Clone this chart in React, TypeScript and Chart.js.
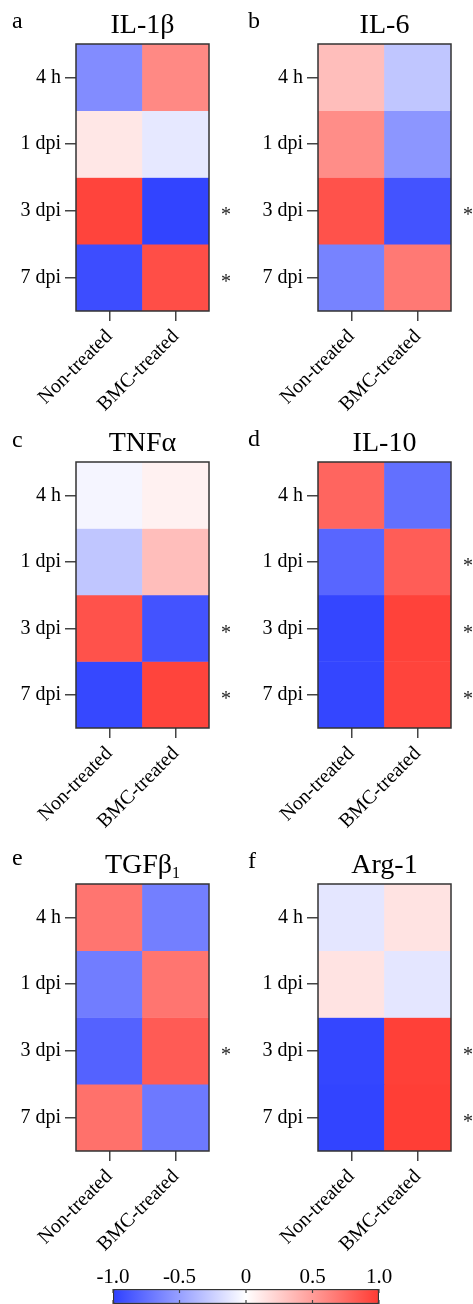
import React, { useEffect, useRef } from 'react';
import { Chart, registerables } from 'chart.js';

Chart.register(...registerables);

// ---------- data ----------
const TIME_POINTS = ['4 h', '1 dpi', '3 dpi', '7 dpi'];
const GROUPS = ['Non-treated', 'BMC-treated'];

const IL1B_NON = [-0.6, 0.12, 0.95, -0.93];
const IL1B_BMC = [0.6, -0.12, -0.98, 0.9];
const IL1B_SIG = [false, false, true, true];

const IL6_NON = [0.33, 0.58, 0.88, -0.65];
const IL6_BMC = [-0.3, -0.55, -0.9, 0.68];
const IL6_SIG = [false, false, true, false];

const TNFA_NON = [-0.05, -0.3, 0.88, -0.96];
const TNFA_BMC = [0.07, 0.33, -0.9, 0.95];
const TNFA_SIG = [false, false, true, true];

const IL10_NON = [0.78, -0.8, -0.97, -0.97];
const IL10_BMC = [-0.75, 0.82, 0.96, 0.95];
const IL10_SIG = [false, true, true, true];

const TGFB_NON = [0.7, -0.68, -0.82, 0.72];
const TGFB_BMC = [-0.67, 0.7, 0.83, -0.7];
const TGFB_SIG = [false, false, true, false];

const ARG1_NON = [-0.13, 0.14, -0.97, -0.98];
const ARG1_BMC = [0.14, -0.13, 0.97, 0.98];
const ARG1_SIG = [false, false, true, true];

const COLORBAR_TICKS = [-1, -0.5, 0, 0.5, 1];
const COLORBAR_LABELS = ['-1.0', '-0.5', '0', '0.5', '1.0'];

// ---------- style ----------
const SERIF = '"Liberation Serif", "Times New Roman", serif';
const NEG = [46, 64, 255];
const MID = [255, 255, 255];
const POS = [255, 58, 50];

function colorFor(v: number): string {
  const t = Math.min(1, Math.abs(v));
  const end = v < 0 ? NEG : POS;
  const c = MID.map((m, i) => Math.round(m + (end[i] - m) * t));
  return `rgb(${c[0]},${c[1]},${c[2]})`;
}

type PanelCfg = {
  letter: string;
  title: string;
  sub?: string;
  non: number[];
  bmc: number[];
  sig: boolean[];
  x: number;
  y: number;
  w: number;
  h: number;
  area: { left: number; right: number; top: number; bottom: number };
  letterY: number;
};

const PANELS: PanelCfg[] = [
  { letter: 'a', title: 'IL-1β', non: IL1B_NON, bmc: IL1B_BMC, sig: IL1B_SIG, x: 0, y: 0, w: 236, h: 420, area: { left: 76, right: 209, top: 44, bottom: 311 }, letterY: 28 },
  { letter: 'b', title: 'IL-6', non: IL6_NON, bmc: IL6_BMC, sig: IL6_SIG, x: 236, y: 0, w: 236, h: 420, area: { left: 82, right: 215, top: 44, bottom: 311 }, letterY: 28 },
  { letter: 'c', title: 'TNFα', non: TNFA_NON, bmc: TNFA_BMC, sig: TNFA_SIG, x: 0, y: 420, w: 236, h: 420, area: { left: 76, right: 209, top: 42, bottom: 308 }, letterY: 27 },
  { letter: 'd', title: 'IL-10', non: IL10_NON, bmc: IL10_BMC, sig: IL10_SIG, x: 236, y: 420, w: 236, h: 420, area: { left: 82, right: 215, top: 42, bottom: 308 }, letterY: 26 },
  { letter: 'e', title: 'TGFβ', sub: '1', non: TGFB_NON, bmc: TGFB_BMC, sig: TGFB_SIG, x: 0, y: 840, w: 236, h: 464, area: { left: 76, right: 209, top: 44, bottom: 311 }, letterY: 25 },
  { letter: 'f', title: 'Arg-1', non: ARG1_NON, bmc: ARG1_BMC, sig: ARG1_SIG, x: 236, y: 840, w: 236, h: 464, area: { left: 82, right: 215, top: 44, bottom: 311 }, letterY: 28 },
];

const panelDecor = {
  id: 'panelDecor',
  afterDatasetsDraw(chart: any, _args: any, opts: any) {
    const { ctx, chartArea: a } = chart;
    const ys = chart.scales.y;
    ctx.save();
    // frame
    ctx.strokeStyle = '#333';
    ctx.lineWidth = 1.5;
    ctx.strokeRect(a.left, a.top, a.right - a.left, a.bottom - a.top);
    // title
    ctx.fillStyle = '#000';
    ctx.textBaseline = 'alphabetic';
    const cx = (a.left + a.right) / 2;
    const ty = a.top - 11;
    ctx.font = `28px ${SERIF}`;
    const w1 = ctx.measureText(opts.title).width;
    let w2 = 0;
    if (opts.sub) {
      ctx.font = `16px ${SERIF}`;
      w2 = ctx.measureText(opts.sub).width;
    }
    const sx = cx - (w1 + w2) / 2;
    ctx.textAlign = 'left';
    ctx.font = `28px ${SERIF}`;
    ctx.fillText(opts.title, sx, ty);
    if (opts.sub) {
      ctx.font = `16px ${SERIF}`;
      ctx.fillText(opts.sub, sx + w1, ty + 5);
    }
    // panel letter
    ctx.font = `24px ${SERIF}`;
    ctx.fillText(opts.letter, 12, opts.letterY);
    // significance asterisks
    ctx.font = `20px ${SERIF}`;
    ctx.textAlign = 'center';
    ctx.fillStyle = '#222';
    (opts.sig as boolean[]).forEach((s, r) => {
      if (!s) return;
      const yc = ys.getPixelForValue(r + 0.5);
      ctx.fillText('*', a.right + 17, yc + 10.5);
    });
    ctx.restore();
  },
};

function Heatmap({ cfg }: { cfg: PanelCfg }) {
  const ref = useRef<HTMLCanvasElement | null>(null);
  useEffect(() => {
    if (!ref.current) return;
    const A = cfg.area;
    const chart = new Chart(ref.current, {
      type: 'bar',
      data: {
        labels: GROUPS,
        datasets: TIME_POINTS.map((tp, r) => ({
          label: tp,
          data: GROUPS.map(() => 1),
          backgroundColor: [colorFor(cfg.non[r]), colorFor(cfg.bmc[r])],
          borderWidth: 0,
          barPercentage: 1,
          categoryPercentage: 1,
        })),
      },
      options: {
        animation: false,
        responsive: false,
        events: [],
        layout: { padding: { left: 0, top: A.top, right: cfg.w - A.right, bottom: 0 } },
        plugins: {
          legend: { display: false },
          tooltip: { enabled: false },
          title: { display: false },
          panelDecor: { title: cfg.title, sub: cfg.sub, letter: cfg.letter, sig: cfg.sig, letterY: cfg.letterY },
        } as any,
        scales: {
          x: {
            type: 'category',
            stacked: true,
            offset: true,
            grid: { display: true, drawOnChartArea: false, drawTicks: true, tickLength: 10, color: '#444', lineWidth: 1.5, offset: false },
            border: { display: false },
            ticks: { color: '#000', font: { family: SERIF, size: 20 }, maxRotation: 45, minRotation: 45, padding: 4, autoSkip: false },
            afterFit: (s: any) => { s.height = cfg.h - A.bottom; },
          },
          y: {
            type: 'linear',
            stacked: true,
            reverse: true,
            min: 0,
            max: TIME_POINTS.length,
            grid: { display: true, drawOnChartArea: false, drawTicks: true, tickLength: 11, color: '#444', lineWidth: 1.5 },
            border: { display: false },
            ticks: { color: '#000', font: { family: SERIF, size: 20 }, padding: 4, autoSkip: false, callback: (_v: any, i: number) => TIME_POINTS[i] },
            afterBuildTicks: (s: any) => { s.ticks = TIME_POINTS.map((_, i) => ({ value: i + 0.5 })); },
            afterFit: (s: any) => { s.width = A.left; },
          },
        } as any,
      },
      plugins: [panelDecor],
    });
    return () => chart.destroy();
  }, [cfg]);
  return (
    <canvas
      ref={ref}
      width={cfg.w}
      height={cfg.h}
      style={{ position: 'absolute', left: cfg.x, top: cfg.y, width: cfg.w, height: cfg.h }}
    />
  );
}

const colorbarTicks = {
  id: 'colorbarTicks',
  afterDatasetsDraw(chart: any) {
    const { ctx, chartArea: a } = chart;
    const xs = chart.scales.x;
    ctx.save();
    ctx.strokeStyle = '#444';
    ctx.lineWidth = 1.2;
    COLORBAR_TICKS.forEach((v) => {
      const x = xs.getPixelForValue(v);
      ctx.beginPath();
      ctx.moveTo(x, a.top);
      ctx.lineTo(x, a.top + 4);
      ctx.moveTo(x, a.bottom);
      ctx.lineTo(x, a.bottom - 4);
      ctx.stroke();
    });
    ctx.restore();
  },
};

function ColorBar() {
  const ref = useRef<HTMLCanvasElement | null>(null);
  const W = 473;
  const H = 64;
  useEffect(() => {
    if (!ref.current) return;
    const chart = new Chart(ref.current, {
      type: 'bar',
      data: {
        labels: ['r'],
        datasets: [
          {
            data: [[COLORBAR_TICKS[0], COLORBAR_TICKS[COLORBAR_TICKS.length - 1]]] as any,
            backgroundColor: (c: any) => {
              const area = c.chart.chartArea;
              if (!area || !isFinite(area.left) || !isFinite(area.right) || area.right <= area.left) return '#ffffff';
              const g = c.chart.ctx.createLinearGradient(area.left, 0, area.right, 0);
              g.addColorStop(0, colorFor(-1));
              g.addColorStop(0.5, colorFor(0));
              g.addColorStop(1, colorFor(1));
              return g;
            },
            borderColor: '#333',
            borderWidth: 1.5,
            borderSkipped: false,
            barPercentage: 1,
            categoryPercentage: 1,
          },
        ],
      },
      options: {
        animation: false,
        responsive: false,
        events: [],
        indexAxis: 'y',
        layout: { padding: { left: 113, right: W - 379, top: 0, bottom: 0 } },
        plugins: { legend: { display: false }, tooltip: { enabled: false } },
        scales: {
          x: {
            type: 'linear',
            position: 'top',
            min: COLORBAR_TICKS[0],
            max: COLORBAR_TICKS[COLORBAR_TICKS.length - 1],
            grid: { display: false },
            border: { display: false },
            ticks: { color: '#000', font: { family: SERIF, size: 21 }, padding: -9, autoSkip: false, maxRotation: 0, callback: (_v: any, i: number) => COLORBAR_LABELS[i] },
            afterBuildTicks: (s: any) => { s.ticks = COLORBAR_TICKS.map((v) => ({ value: v })); },
            afterFit: (s: any) => { s.height = 49; },
          },
          y: { display: false },
        } as any,
      },
      plugins: [colorbarTicks],
    });
    return () => chart.destroy();
  }, []);
  return (
    <canvas
      ref={ref}
      width={W}
      height={H}
      style={{ position: 'absolute', left: 0, top: 1240, width: W, height: H }}
    />
  );
}

export default function App() {
  return (
    <div style={{ position: 'absolute', left: 0, top: 0, width: 473, height: 1304, background: '#fff', overflow: 'hidden' }}>
      {PANELS.map((p) => (
        <Heatmap key={p.letter} cfg={p} />
      ))}
      <ColorBar />
    </div>
  );
}
